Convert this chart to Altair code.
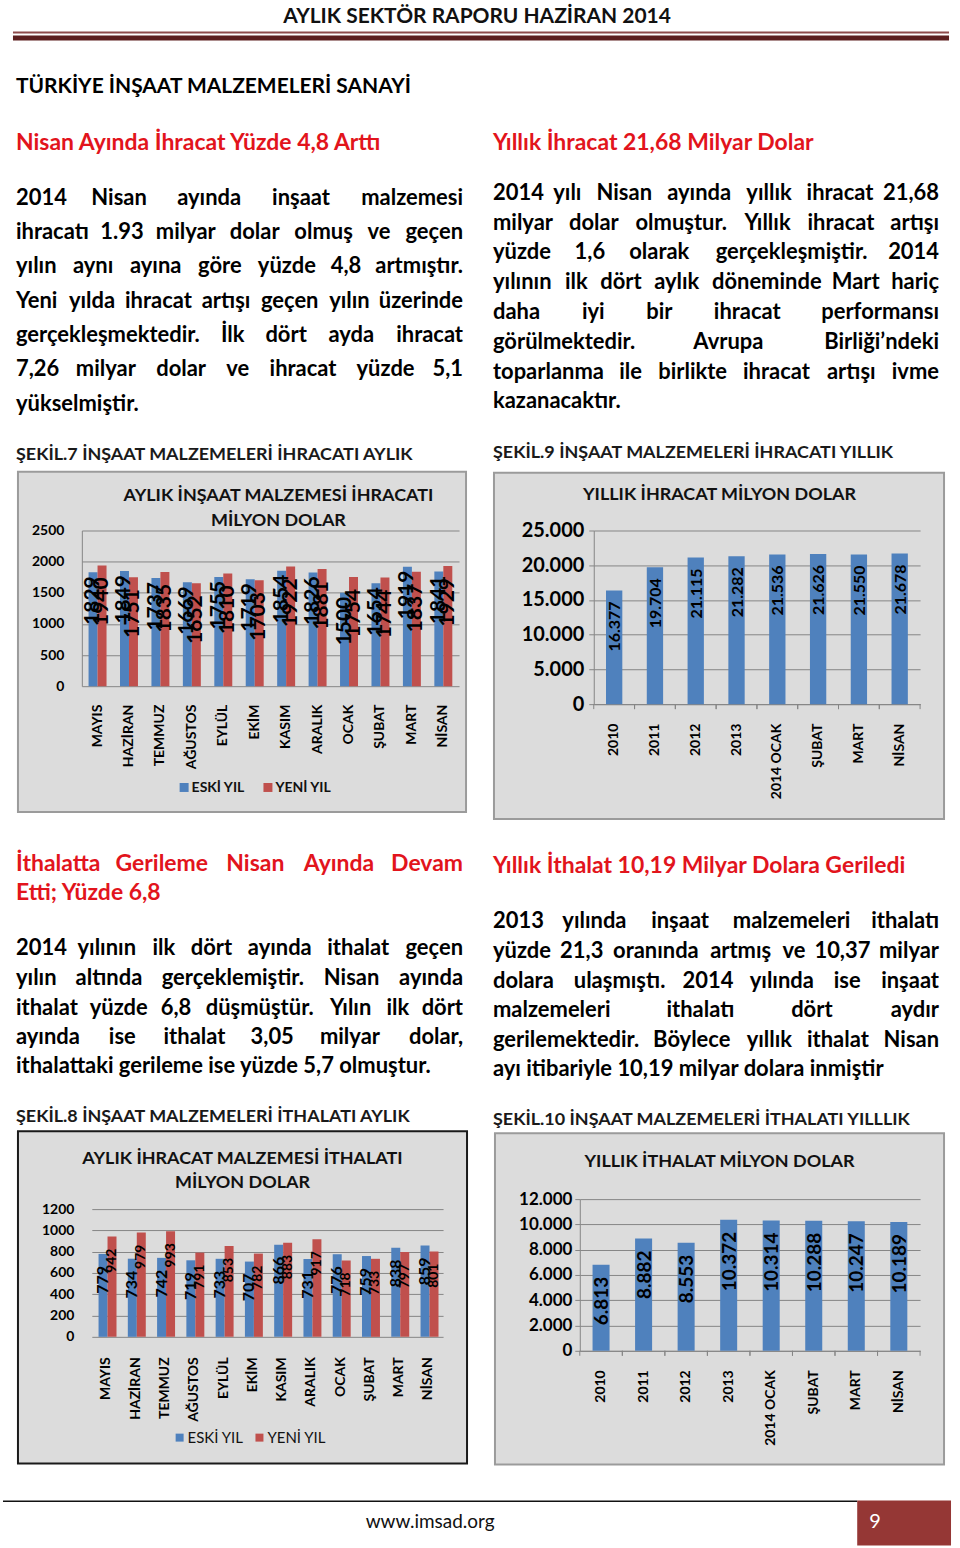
import itertools
import altair as alt
import pandas as pd

# ---------------------------------------------------------------- data
months = ["MAYIS", "HAZİRAN", "TEMMUZ", "AĞUSTOS", "EYLÜL", "EKİM",
          "KASIM", "ARALIK", "OCAK", "ŞUBAT", "MART", "NİSAN"]
export_old = [1829, 1849, 1737, 1669, 1755, 1719, 1854, 1826, 1500, 1654, 1919, 1841]
export_new = [1940, 1751, 1835, 1652, 1810, 1703, 1922, 1881, 1754, 1744, 1837, 1929]
import_old = [779, 734, 742, 719, 733, 707, 866, 731, 776, 759, 838, 859]
import_new = [942, 979, 993, 791, 853, 782, 883, 917, 718, 733, 797, 801]
periods = ["2010", "2011", "2012", "2013", "2014 OCAK", "ŞUBAT", "MART", "NİSAN"]
export_annual = [16377, 19704, 21115, 21282, 21536, 21626, 21550, 21678]
import_annual = [6813, 8882, 8553, 10372, 10314, 10288, 10247, 10189]
series = ["ESKİ YIL", "YENİ YIL"]
series_colors = ["#4f81bd", "#c0504d"]

# ---------------------------------------------------------------- texts
page_header = "AYLIK SEKTÖR RAPORU HAZİRAN 2014"
section_title = "TÜRKİYE İNŞAAT MALZEMELERİ SANAYİ"
head_tl = "Nisan Ayında İhracat Yüzde 4,8 Arttı"
head_tr = "Yıllık İhracat 21,68 Milyar Dolar"
para_tl = ["2014 Nisan ayında inşaat malzemesi",
           "ihracatı 1.93 milyar dolar olmuş ve geçen",
           "yılın aynı ayına göre yüzde 4,8 artmıştır.",
           "Yeni yılda ihracat artışı geçen yılın üzerinde",
           "gerçekleşmektedir. İlk dört ayda ihracat",
           "7,26 milyar dolar ve ihracat yüzde 5,1",
           "yükselmiştir."]
para_tr = ["2014 yılı Nisan ayında yıllık ihracat 21,68",
           "milyar dolar olmuştur. Yıllık ihracat artışı",
           "yüzde 1,6 olarak gerçekleşmiştir. 2014",
           "yılının ilk dört aylık döneminde Mart hariç",
           "daha iyi bir ihracat performansı",
           "görülmektedir. Avrupa Birliği’ndeki",
           "toparlanma ile birlikte ihracat artışı ivme",
           "kazanacaktır."]
cap7 = "ŞEKİL.7 İNŞAAT MALZEMELERİ İHRACATI AYLIK"
cap9 = "ŞEKİL.9 İNŞAAT MALZEMELERİ İHRACATI YILLIK"
head_bl = ["İthalatta Gerileme Nisan Ayında Devam", "Etti; Yüzde 6,8"]
para_bl = ["2014 yılının ilk dört ayında ithalat geçen",
           "yılın altında gerçeklemiştir. Nisan ayında",
           "ithalat yüzde 6,8 düşmüştür.  Yılın ilk dört",
           "ayında ise ithalat 3,05 milyar dolar,",
           "ithalattaki gerileme ise yüzde 5,7 olmuştur."]
head_br = "Yıllık İthalat 10,19 Milyar Dolara Geriledi"
para_br = ["2013 yılında inşaat malzemeleri ithalatı",
           "yüzde 21,3 oranında artmış ve 10,37 milyar",
           "dolara ulaşmıştı. 2014 yılında ise inşaat",
           "malzemeleri ithalatı dört aydır",
           "gerilemektedir. Böylece yıllık ithalat Nisan",
           "ayı itibariyle 10,19 milyar dolara inmiştir"]
cap8 = "ŞEKİL.8 İNŞAAT MALZEMELERİ İTHALATI AYLIK"
cap10 = "ŞEKİL.10 İNŞAAT MALZEMELERİ İTHALATI YILLLIK"
title1 = ["AYLIK İNŞAAT MALZEMESİ İHRACATI", "MİLYON DOLAR"]
title2 = "YILLIK İHRACAT MİLYON DOLAR"
title3 = ["AYLIK İHRACAT MALZEMESİ İTHALATI", "MİLYON DOLAR"]
title4 = "YILLIK İTHALAT MİLYON DOLAR"
footer_url = "www.imsad.org"
page_no = "9"

# ---------------------------------------------------------------- style
FONT = "Lato"
GRID = "#868686"
RED_HEAD = "#e2141c"
PANEL = "#dcdcdc"
BODY = 22
HEAD = 23
CAP = 18
CTITLE = 18
DOT = "replace(format(datum.value, ',d'), ',', '.')"

# page rows (y origins)
R1, R2, R3, R4, R5 = 0, 529, 703, 1199, 1351

# rough advance widths (em) used only to spread justified words
_W = {'a': .556, 'b': .611, 'c': .556, 'ç': .556, 'd': .611, 'e': .556, 'f': .333,
      'g': .611, 'ğ': .611, 'h': .611, 'i': .278, 'ı': .278, 'j': .278, 'k': .556,
      'l': .278, 'm': .889, 'n': .611, 'o': .611, 'ö': .611, 'p': .611, 'r': .389,
      's': .556, 'ş': .556, 't': .333, 'u': .611, 'ü': .611, 'v': .556, 'w': .778,
      'y': .556, 'z': .5, '.': .278, ',': .278, ';': .333, '’': .278,
      'A': .722, 'B': .722, 'D': .722, 'E': .667, 'G': .778, 'I': .278, 'İ': .278,
      'L': .611, 'M': .833, 'N': .722, 'S': .667, 'Y': .667}


def est_width(word, size):
    return sum(_W.get(c, .556) for c in word) * 0.92 * size


def T(items, x, y, text, size, color="#000000", weight="bold", align="left"):
    items.append(dict(x=x, y=y, text=text, size=size, color=color,
                      weight=weight, align=align))


def paragraph(items, lines, x0, width, ys, size, color="#000000"):
    for i, (line, y) in enumerate(zip(lines, ys)):
        words = line.split()
        if i == len(lines) - 1 or len(words) == 1:
            T(items, x0, y, line, size, color)
            continue
        ws = [est_width(w, size) for w in words]
        gap = (width - sum(ws)) / (len(words) - 1)
        pos = x0
        for j, (w, ww) in enumerate(zip(words, ws)):
            if j == 0:
                T(items, x0, y, w, size, color, align="left")
            elif j == len(words) - 1:
                T(items, x0 + width, y, w, size, color, align="right")
            else:
                T(items, pos + ww / 2, y, w, size, color, align="center")
            pos += ww + gap


def canvas(items, rects, origin, width, height):
    layers = []
    # consecutive runs keep the drawing order (frames first, keys on top)
    for sw, run in itertools.groupby(rects, key=lambda r: r["sw"]):
        g = pd.DataFrame(list(run))
        g["y"] -= origin
        g["y2"] -= origin
        layers.append(alt.Chart(g).mark_rect(strokeWidth=float(sw)).encode(
            x=alt.X("x:Q", scale=None, axis=None), x2="x2:Q",
            y=alt.Y("y:Q", scale=None, axis=None), y2="y2:Q",
            fill=alt.Fill("fill:N", scale=None),
            stroke=alt.Stroke("stroke:N", scale=None)))
    tdf = pd.DataFrame(items)
    tdf["y"] -= origin
    for (weight, align), g in tdf.groupby(["weight", "align"], sort=False):
        layers.append(alt.Chart(g).mark_text(
            align=align, baseline="middle", fontWeight=weight, font=FONT).encode(
            x=alt.X("x:Q", scale=None, axis=None),
            y=alt.Y("y:Q", scale=None, axis=None),
            text="text:N",
            size=alt.Size("size:Q", scale=None),
            color=alt.Color("color:N", scale=None)))
    return alt.layer(*layers).properties(width=width, height=height)


def R(rects, x, x2, y, y2, fill, stroke="transparent", sw=0):
    rects.append(dict(x=x, x2=x2, y=y, y2=y2, fill=fill, stroke=stroke, sw=sw))


def spacer(w, h=1):
    # invisible, tiny point in the middle so it never widens the page bounds
    return alt.Chart(pd.DataFrame({"v": [0]})).mark_point(
        opacity=0, size=1, strokeWidth=0).encode(
        x=alt.value(w / 2), y=alt.value(h / 2)).properties(width=w, height=h)


# ---------------------------------------------------------------- bar panels
def grouped_chart(old, new, ymax, ystep, w, h, pad_outer, lab_sizes, lab_dy, lab_dx,
                  ydomain, ylabpad, xlabpad, ylabsize):
    df = pd.DataFrame({"cat": months * 2,
                       "series": [series[0]] * len(months) + [series[1]] * len(months),
                       "value": old + new})
    x = alt.X("cat:N", sort=months, scale=alt.Scale(paddingInner=0, paddingOuter=0),
              axis=alt.Axis(title=None, labelAngle=-90, labelPadding=xlabpad, ticks=False,
                            domain=False, labelFontSize=14, labelFontWeight="bold",
                            labelColor="#000000", labelOverlap=False))
    xo = alt.XOffset("series:N", sort=series,
                     scale=alt.Scale(paddingInner=0, paddingOuter=pad_outer))
    y = alt.Y("value:Q", scale=alt.Scale(domain=[0, ymax], nice=False),
              axis=alt.Axis(title=None, values=list(range(0, ymax + 1, ystep)), grid=True,
                            gridColor=GRID, gridOpacity=1, domain=ydomain, domainColor=GRID,
                            ticks=False, labelPadding=ylabpad, labelFontSize=ylabsize,
                            labelFontWeight="bold", labelColor="#000000", format="d",
                            labelOverlap=False))
    base = alt.Chart(df).encode(x=x, xOffset=xo, y=y)
    layers = [base.mark_bar().encode(
        color=alt.Color("series:N", scale=alt.Scale(domain=series, range=series_colors),
                        legend=None))]
    for i, s in enumerate(series):
        layers.append(base.transform_filter(alt.datum.series == s).mark_text(
            angle=270, align="right", baseline="middle", fontSize=lab_sizes[i],
            fontWeight="bold", color="#000000", yOffset=lab_dy[i], xOffset=lab_dx
        ).encode(text=alt.Text("value:Q", format="d")))
    return alt.layer(*layers).properties(width=w, height=h)


def annual_chart(vals, ymax, ystep, w, h, ylabsize, lab_size, lab_dy, ylabpad, xlabpad):
    df = pd.DataFrame({"cat": periods, "value": vals})
    xscale = alt.Scale(paddingInner=0, paddingOuter=0)
    xaxis = alt.Axis(title=None, labelAngle=-90, labelPadding=xlabpad, ticks=False,
                     domain=True, domainColor=GRID, labelFontSize=14, labelFontWeight="bold",
                     labelColor="#000000", labelOverlap=False)
    y = alt.Y("value:Q", scale=alt.Scale(domain=[0, ymax], nice=False),
              axis=alt.Axis(title=None, values=list(range(0, ymax + 1, ystep)), grid=True,
                            gridColor=GRID, gridOpacity=1, domain=True, domainColor=GRID,
                            ticks=True, tickColor=GRID, tickSize=5, labelPadding=ylabpad,
                            labelFontSize=ylabsize, labelFontWeight="bold",
                            labelColor="#000000", labelExpr=DOT, labelOverlap=False))
    base = alt.Chart(df).encode(x=alt.X("cat:N", sort=periods, scale=xscale, axis=xaxis), y=y)
    layers = [base.mark_bar(width=alt.RelativeBandSize(0.4), color=series_colors[0])]
    for bp in (0, 1):
        layers.append(alt.Chart(df).mark_rule(color=GRID).encode(
            x=alt.X("cat:N", sort=periods, scale=xscale, axis=xaxis, bandPosition=bp),
            y=alt.value(h), y2=alt.value(h + 5)))
    layers.append(base.transform_calculate(label=DOT).mark_text(
        angle=270, align="right", baseline="middle", fontSize=lab_size, fontWeight="bold",
        color="#000000", yOffset=lab_dy, xOffset=1).encode(text="label:N"))
    return alt.layer(*layers).properties(width=w, height=h)


chart1 = grouped_chart(export_old, export_new, 2500, 500, 378, 156, 0.75, [21, 21], [4, 12], 2,
                       True, 18, 18, 14)
chart2 = annual_chart(export_annual, 25000, 5000, 327, 174, 20, 16, 11, 5, 19)
chart3 = grouped_chart(import_old, import_new, 1200, 200, 352, 128, 0.4, [16, 14], [12, 12], 0,
                       False, 18, 20, 14)
chart4 = annual_chart(import_annual, 12000, 2000, 341, 152, 17, 19, 12, 3, 19)

# ---------------------------------------------------------------- top text block
t1, r1 = [], []
R(r1, 12, 950, 29, 31, "#8e4b4b")
R(r1, 12, 950, 33, 38, "#5c1f1f")
R(r1, 17, 466, 470, 811, PANEL, "#9b9b9b", 2)
R(r1, 494, 945, 471, 818, PANEL, "#9b9b9b", 2)
R(r1, 179, 188, 782, 791, series_colors[0])
R(r1, 263, 272, 782, 791, series_colors[1])
T(t1, 477, 14, page_header, 21, "#111111", align="center")
T(t1, 15, 85, section_title, 21)
T(t1, 15, 141, head_tl, HEAD, RED_HEAD)
T(t1, 493, 141, head_tr, HEAD, RED_HEAD)
paragraph(t1, para_tl, 15, 448, [196, 230, 264, 299, 333, 367, 402], BODY)
paragraph(t1, para_tr, 493, 447, [191, 221, 250, 280, 310, 340, 370, 399], BODY)
T(t1, 15, 453, cap7, CAP, "#1a1a1a")
T(t1, 493, 451, cap9, CAP, "#1a1a1a")
T(t1, 278, 494, title1[0], CTITLE, "#111111", align="center")
T(t1, 278, 519, title1[1], CTITLE, "#111111", align="center")
T(t1, 720, 493, title2, CTITLE, "#111111", align="center")
T(t1, 191, 787, series[0], 14, "#111111")
T(t1, 275, 787, series[1], 14, "#111111")
top = canvas(t1, r1, R1, 960, R2 - R1)

# ---------------------------------------------------------------- middle text block
t3, r3 = [], []
R(r3, 17, 467, 1131, 1464, PANEL, "#1a1a1a", 2)
R(r3, 495, 945, 1133, 1465, PANEL, "#9b9b9b", 2)
paragraph(t3, head_bl, 15, 448, [863, 892], HEAD, RED_HEAD)
paragraph(t3, para_bl, 15, 448, [947, 977, 1007, 1037, 1066], BODY)
T(t3, 15, 1117, cap8, CAP, "#1a1a1a")
T(t3, 493, 865, head_br, HEAD, RED_HEAD)
paragraph(t3, para_br, 493, 447, [920, 950, 980, 1010, 1040, 1069], BODY)
T(t3, 493, 1120, cap10, CAP, "#1a1a1a")
T(t3, 242, 1159, title3[0], CTITLE, "#111111", align="center")
T(t3, 242, 1183, title3[1], CTITLE, "#111111", align="center")
T(t3, 720, 1162, title4, CTITLE, "#111111", align="center")
middle = canvas(t3, r3, R3, 960, R4 - R3)

# ---------------------------------------------------------------- bottom block
t5, r5 = [], []
R(r5, 175, 183, 1434, 1442, series_colors[0])
R(r5, 255, 263, 1434, 1442, series_colors[1])
R(r5, 2, 858, 1501, 1502.5, "#111111")
R(r5, 858, 952, 1501, 1546, "#953735")
T(t5, 187, 1438, series[0], 15, "#111111", weight="normal")
T(t5, 267, 1438, series[1], 15, "#111111", weight="normal")
T(t5, 430, 1523, footer_url, 19, "#111111", weight="normal", align="center")
T(t5, 870, 1523, page_no, 20, "#ffffff", weight="normal")
bottom = canvas(t5, r5, R5, 960, 1548 - R5)

# ---------------------------------------------------------------- layout
# nested concats count as zero-size in a flush layout, so explicit spacers
# reserve their room
row2 = alt.hconcat(spacer(81), chart1, spacer(135), chart2, spacer(39),
                   spacing=0, bounds="flush")
col3 = alt.vconcat(spacer(352, 10), chart3, spacing=0, bounds="flush")
row4 = alt.hconcat(spacer(91), col3, spacer(352), spacer(137), chart4, spacer(39),
                   spacing=0, bounds="flush")

chart = alt.vconcat(top, row2, spacer(960, R3 - R2), middle,
                    row4, spacer(960, R5 - R4), bottom,
                    spacing=0, bounds="flush",
                    padding=0).configure(font=FONT).configure_view(stroke="transparent")

chart.save("out.html", embed_options={"renderer": "svg", "actions": False})
